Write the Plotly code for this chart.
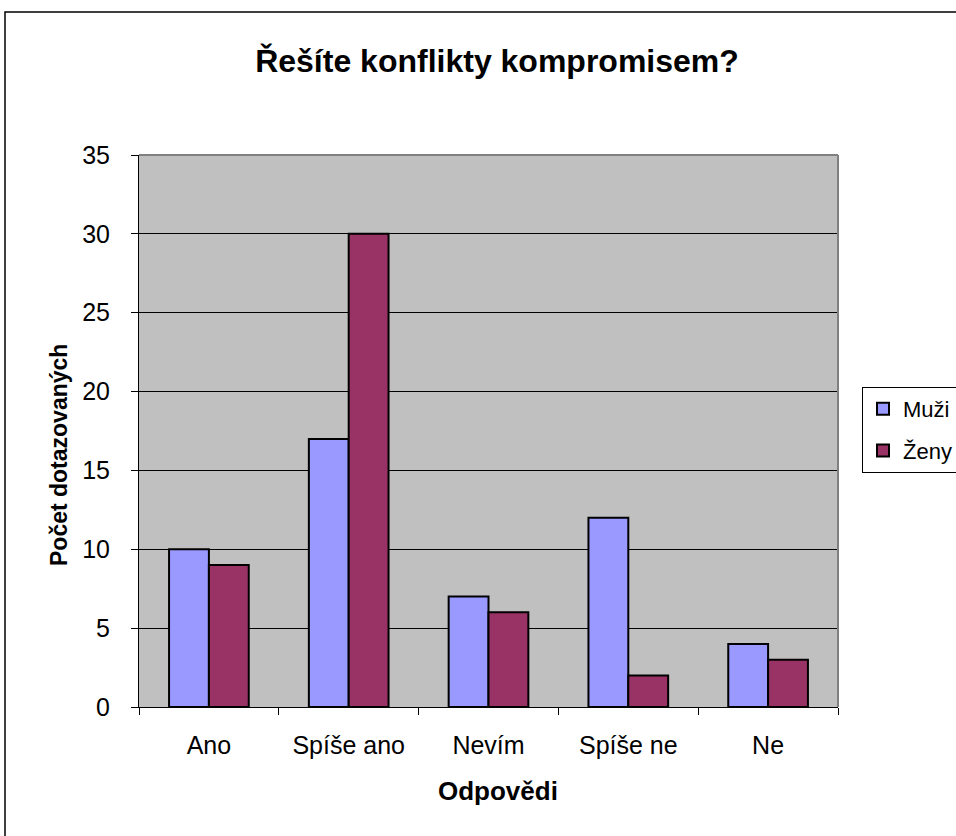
import plotly.graph_objects as go

categories = ["Ano", "Spíše ano", "Nevím", "Spíše ne", "Ne"]
muzi = [10, 17, 7, 12, 4]
zeny = [9, 30, 6, 2, 3]
y_ticks = [0, 5, 10, 15, 20, 25, 30, 35]

W, H = 956, 836
L, R, T, B = 139, 838, 155, 707  # plot area in page pixels

def px(x):
    return (x - L) / (R - L)

def py(y):
    return (B - y) / (B - T)

font = "Liberation Sans, Arial, sans-serif"

fig = go.Figure()
fig.add_trace(go.Bar(name="Muži", x=categories, y=muzi, legendgroup="m",
                     marker=dict(color="#9999FF", line=dict(color="black", width=2))))
fig.add_trace(go.Bar(name="Ženy", x=categories, y=zeny, legendgroup="z",
                     marker=dict(color="#993366", line=dict(color="black", width=2))))

fig.update_layout(
    width=W, height=H,
    margin=dict(l=L, r=W - R, t=T, b=H - B, pad=0, autoexpand=False),
    paper_bgcolor="white",
    plot_bgcolor="#C0C0C0",
    barmode="group",
    bargap=0.43,
    bargroupgap=0,
    font=dict(family=font, color="black", size=25),
    title=dict(text="<b>Řešíte konflikty kompromisem?</b>", x=497 / W, xanchor="center",
               y=1 - 61 / H, yanchor="middle", yref="container",
               font=dict(size=32, family=font)),
    legend=dict(x=px(862), y=py(387), xanchor="left", yanchor="top",
                bordercolor="black", borderwidth=1, bgcolor="white",
                font=dict(size=22, family=font), itemwidth=30,
                tracegroupgap=10),
    xaxis=dict(
        showline=True, linecolor="black", linewidth=1,
        ticks="outside", ticklen=7, tickcolor="black", tickson="boundaries",
        tickfont=dict(size=25), showgrid=False, ticklabelstandoff=16,
    ),
    yaxis=dict(
        range=[0, 35], tickvals=y_ticks,
        showline=True, linecolor="black", linewidth=1,
        ticks="outside", ticklen=7, tickcolor="black",
        showgrid=True, gridcolor="black", gridwidth=1,
        tickfont=dict(size=25), zeroline=False, ticklabelstandoff=16,
    ),
    annotations=[
        dict(text="<b>Odpovědi</b>", xref="paper", yref="paper",
             x=px(498), y=py(791), xanchor="center", yanchor="middle",
             showarrow=False, font=dict(size=26, family=font)),
        dict(text="<b>Počet dotazovaných</b>", xref="paper", yref="paper",
             x=px(59), y=py(455), xanchor="center", yanchor="middle",
             textangle=-90, showarrow=False, font=dict(size=23, family=font)),
    ],
    shapes=[
        dict(type="line", xref="paper", yref="paper", x0=0, x1=1, y0=1, y1=1,
             line=dict(color="#808080", width=2)),
        dict(type="line", xref="paper", yref="paper", x0=1, x1=1, y0=0, y1=1,
             line=dict(color="#808080", width=2)),
        dict(type="rect", xref="paper", yref="paper", x0=px(5), x1=px(1000),
             y0=py(900), y1=py(12), line=dict(color="black", width=1.5),
             layer="below"),
    ],
)

fig.write_html(
    "out.html",
    config={"displayModeBar": False},
    post_script="document.body.style.margin='0';document.body.style.overflow='hidden';",
)
